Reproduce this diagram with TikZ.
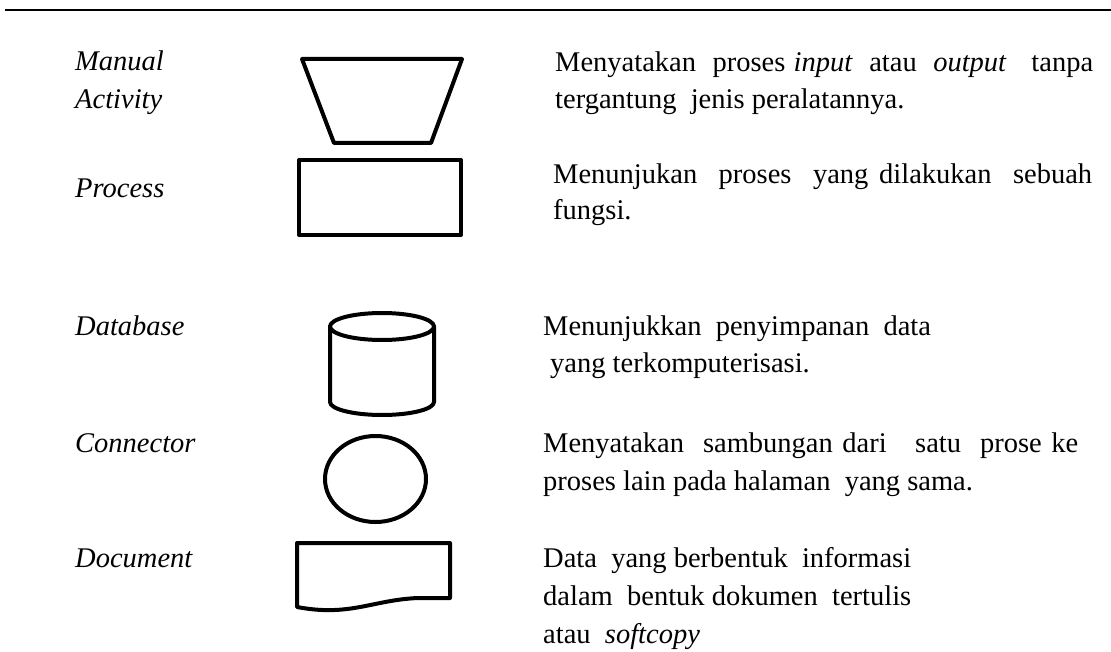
\documentclass[tikz,border=0pt]{standalone}
\usepackage{fontspec}
\setmainfont{Liberation Serif}
\begin{document}
\begin{tikzpicture}[x=1pt,y=-1pt,
  sym/.style={line width=4pt, line join=round, line cap=round},
  lbl/.style={anchor=base west, inner sep=0pt, font=\fontsize{28.5}{34}\selectfont\itshape},
  desc/.style={anchor=base west, inner sep=0pt, font=\fontsize{28.5}{34}\selectfont}]
\useasboundingbox (0,0) rectangle (1111,652);
\draw[line width=2.5pt] (5,10) -- (1111,10);
% shapes
\draw[sym] (302,59) -- (462,59) -- (431,143) -- (334,143) -- cycle;
\draw[sym] (299,160) rectangle (461,235);
\draw[sym] (382,326.5) ellipse [x radius=52pt, y radius=13.5pt];
\draw[sym] (330,326.5) -- (330,402) arc[start angle=180, end angle=360, x radius=52pt, y radius=13pt] -- (434,326.5);
\draw[sym] (375.5,479) ellipse [x radius=50.5pt, y radius=43pt];
\draw[sym] (297,607) .. controls (350,617) and (372,600) .. (418,598) -- (450,598) -- (450,543) -- (297,543) -- cycle;
% labels
\node[lbl] (l1) at (75,71) {Manual};
\node[lbl] (l1b) at (75,109) {Activity};
\node[lbl] (l2) at (75,198) {Process};
\node[lbl] (l3) at (75,335) {Database};
\node[lbl] (l4) at (75,452) {Connector};
\node[lbl] (l5) at (75,567) {Document};
% descriptions
\node[desc] (d1a) at (555,72) {\makebox[538pt][s]{Menyatakan\ \ proses \textit{input}\ \ atau\ \ \textit{output}\ \ \ tanpa}};
\node[desc] (d1b) at (555,109) {tergantung\ \ jenis peralatannya.};
\node[desc] (d2a) at (553,184) {\makebox[539pt][s]{Menunjukan\ \ proses\ \ yang dilakukan\ \ sebuah}};
\node[desc] (d2b) at (553,220) {fungsi.};
\node[desc] (d3a) at (543,335) {Menunjukkan\ \ penyimpanan\ \ data};
\node[desc] (d3b) at (550,372) {yang terkomputerisasi.};
\node[desc] (d4a) at (543,452) {\makebox[535pt][s]{Menyatakan\ \ sambungan dari\ \ \ satu\ \ prose ke}};
\node[desc] (d4b) at (543,490) {proses lain pada halaman\ \ yang sama.};
\node[desc] (d5a) at (543,567) {Data\ \ yang berbentuk\ \ informasi};
\node[desc] (d5b) at (543,605) {dalam\ \ bentuk dokumen\ \ tertulis};
\node[desc] (d5c) at (543,643) {atau\ \ \textit{softcopy}};
\end{tikzpicture}
\end{document}
